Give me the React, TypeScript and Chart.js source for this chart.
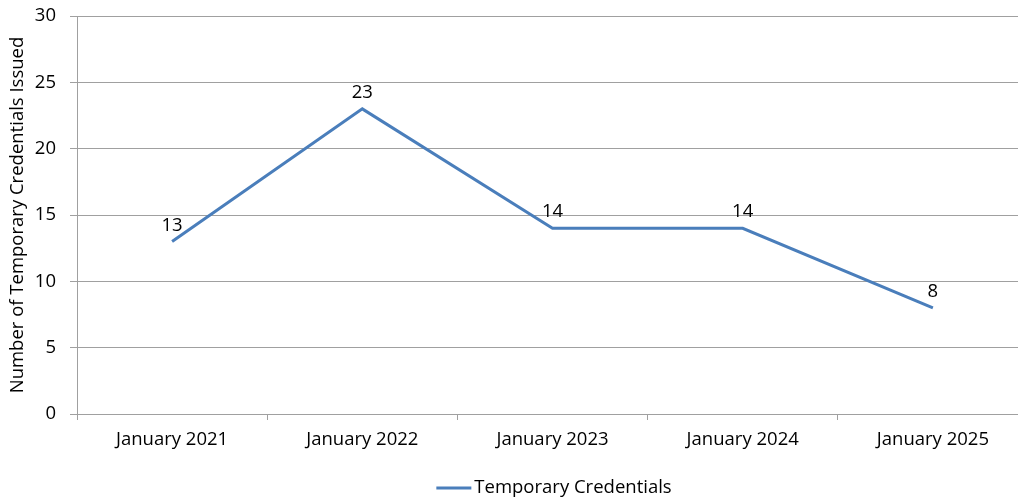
import React, { useEffect, useRef } from "react";
import { Chart, registerables } from "chart.js";

Chart.register(...registerables);

const categories = ["January 2021", "January 2022", "January 2023", "January 2024", "January 2025"];
const credentials = [13, 23, 14, 14, 8];
const seriesLabel = "Temporary Credentials";
const yTitle = "Number of Temporary Credentials Issued";

const FONT = "'Open Sans', 'Liberation Sans', sans-serif";
const SIZE = 18.5;
const LINE_COLOR = "#4a7ebb";

const dataLabels = {
  id: "dataLabels",
  afterDatasetsDraw(chart: any) {
    const ctx = chart.ctx;
    const meta = chart.getDatasetMeta(0);
    ctx.save();
    ctx.font = `${SIZE}px ${FONT}`;
    ctx.fillStyle = "#000";
    ctx.textAlign = "center";
    ctx.textBaseline = "bottom";
    meta.data.forEach((pt: any, i: number) => {
      ctx.fillText(String(credentials[i]), pt.x, pt.y - 7);
    });
    ctx.restore();
  },
};

const customLegend = {
  id: "customLegend",
  afterDraw(chart: any) {
    const ctx = chart.ctx;
    ctx.save();
    ctx.font = `${SIZE}px ${FONT}`;
    const textW = ctx.measureText(seriesLabel).width;
    const lineW = 35;
    const gap = 3;
    const total = lineW + gap + textW;
    const cx = 1018 / 2 + 45;
    const x0 = cx - total / 2;
    const y = 488;
    ctx.strokeStyle = LINE_COLOR;
    ctx.lineWidth = 3;
    ctx.beginPath();
    ctx.moveTo(x0, y);
    ctx.lineTo(x0 + lineW, y);
    ctx.stroke();
    ctx.fillStyle = "#000";
    ctx.textAlign = "left";
    ctx.textBaseline = "middle";
    ctx.fillText(seriesLabel, x0 + lineW + gap, y);
    ctx.restore();
  },
};

export default function App() {
  const ref = useRef<HTMLCanvasElement>(null);
  useEffect(() => {
    document.body.style.margin = "0";
    document.body.style.overflow = "hidden";
    const chart = new Chart(ref.current!, {
      type: "line",
      data: {
        labels: categories,
        datasets: [
          {
            label: seriesLabel,
            data: credentials,
            borderColor: LINE_COLOR,
            backgroundColor: LINE_COLOR,
            borderWidth: 3,
            pointRadius: 0,
            tension: 0,
          },
        ],
      },
      options: {
        responsive: false,
        animation: false,
        layout: { padding: { top: 16, right: 12, left: 0, bottom: 38 } },
        plugins: {
          legend: { display: false },
          tooltip: { enabled: false },
        },
        scales: {
          x: {
            offset: true,
            grid: { offset: true, drawOnChartArea: false, tickLength: 6, color: "#a0a0a0" },
            border: { color: "#a0a0a0" },
            ticks: { color: "#000", font: { family: FONT, size: SIZE }, padding: 9 },
            afterFit(scale: any) {
              scale.height = 52;
            },
          },
          y: {
            min: 0,
            max: 30,
            ticks: { stepSize: 5, color: "#000", font: { family: FONT, size: SIZE }, padding: 14 },
            grid: { color: "#a0a0a0", tickLength: 7 },
            border: { color: "#a0a0a0" },
            title: {
              display: true,
              text: yTitle,
              color: "#000",
              font: { family: FONT, size: SIZE },
              padding: { top: 7, bottom: 0 },
            },
            afterFit(scale: any) {
              scale.width = 77;
              scale.paddingTop = 0;
              scale.paddingBottom = 0;
            },
          },
        },
      },
      plugins: [dataLabels, customLegend],
    });
    return () => chart.destroy();
  }, []);
  return (
    <div style={{ width: 1018, height: 504, overflow: "hidden" }}>
      <canvas ref={ref} width={1040} height={504} style={{ display: "block" }} />
    </div>
  );
}
